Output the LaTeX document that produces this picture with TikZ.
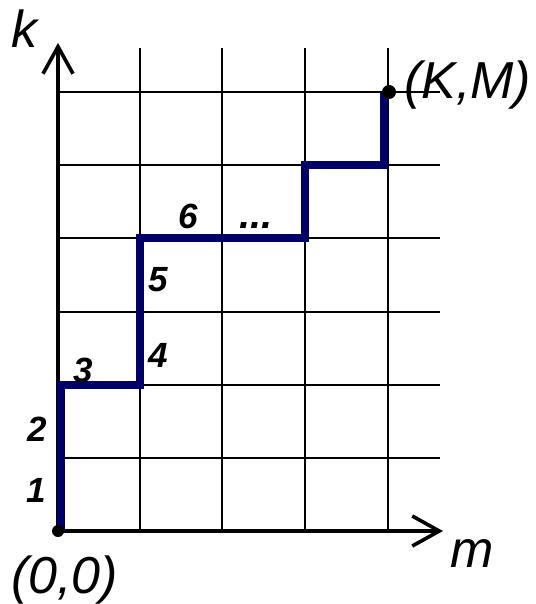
\documentclass[tikz,border=0pt]{standalone}
\usepackage{fontspec}
\setmainfont{Liberation Sans}
\usetikzlibrary{arrows.meta}
\definecolor{pathblue}{RGB}{0,0,102}
\tikzset{
  gridln/.style={draw=black, line width=2.2pt},
  axis/.style  ={draw=black, line width=3.6pt, -{Straight Barb[length=27pt,width=30pt]}},
  stair/.style ={draw=pathblue, line width=7.5pt},
  lbl/.style   ={font=\fontsize{52}{60}\selectfont\itshape, inner sep=0pt},
  num/.style   ={font=\fontsize{35}{40}\selectfont\bfseries\itshape, inner sep=0pt},
  dot/.style   ={fill=black, circle, inner sep=0pt},
}
\begin{document}
\begin{tikzpicture}[x=1pt,y=-1pt]
\useasboundingbox (0,0) rectangle (535,604);
\coordinate (o) at (58,531);
\coordinate (km) at (388,92);
\coordinate (ktip) at (58,43);
\coordinate (mtip) at (443,531);

% grid
\foreach \x in {140,222,305,388} \draw[gridln] (\x,48) -- (\x,531);
\foreach \y in {92,165,238,312,385,458} \draw[gridln] (58,\y) -- (440,\y);

% axes
\draw[axis] (o) -- (ktip);
\draw[axis] (o) -- (mtip);

% path
\draw[stair] ([xshift=3pt]o) |- (140,385) |- (305,238) |- (384,165) -- ([xshift=-4pt]km);
\node[dot,minimum size=12pt] (odot) at (o) {};
\node[dot,minimum size=14pt] (kmdot) at ([xshift=1pt]km) {};

\node[lbl,anchor=base] (klbl) at (24,48) {k};
\node[lbl,anchor=base west] (kmlbl) at (404,99) {(K,M)};
\node[lbl,anchor=base west] (olbl) at (11,593) {(0,0)};
\node[lbl,anchor=base] (mlbl) at (472,567) {m};

\node[num] (n1) at (36,490) {1};
\node[num] (n2) at (37,429) {2};
\node[num] (n3) at (83,370) {3};
\node[num] (n4) at (158,355) {4};
\node[num] (n5) at (158,280) {5};
\node[num] (n6) at (188,216) {6};
\node[num,font=\fontsize{40}{44}\selectfont\bfseries\itshape] (ndots) at (256,226) {...};
\end{tikzpicture}
\end{document}
